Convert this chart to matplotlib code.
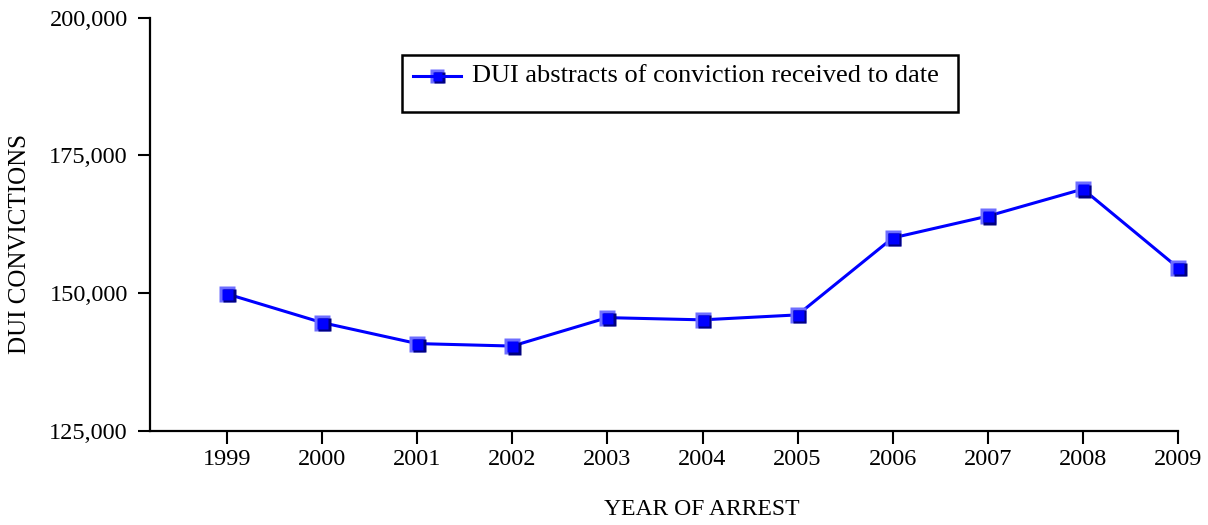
import matplotlib
matplotlib.use("Agg")
import matplotlib.pyplot as plt
import matplotlib.transforms as mtransforms
from matplotlib.patches import Rectangle
from matplotlib.lines import Line2D
from matplotlib.ticker import FuncFormatter

plt.rcParams['font.family'] = ['Liberation Serif', 'DejaVu Serif']

# data
years = [1999, 2000, 2001, 2002, 2003, 2004, 2005, 2006, 2007, 2008, 2009]
convictions = [149900, 144700, 140900, 140450, 145600, 145200, 146100,
               160050, 164000, 168900, 154650]
yticks = [125000, 150000, 175000, 200000]
series_label = "DUI abstracts of conviction received to date"

W, H = 1208, 525
fig = plt.figure(figsize=(W / 100, H / 100), dpi=100)
ax = fig.add_axes([150 / W, (H - 431.3) / H, 1028 / W, 413.8 / H])

BLUE = '#0000ff'
LIGHT = '#6e6eff'
DARK = '#000080'


def bevel_markers(axis, xs, ys, size_px, trans=None, clip=False):
    # square marker with a light top/left edge and a dark bottom/right edge
    if trans is None:
        trans = axis.transData
    px = 0.72  # points per pixel at 100 dpi
    axis.plot(xs, ys, ls='none', marker='s', ms=size_px * px, mfc=LIGHT,
              mec='none', transform=trans, clip_on=clip, zorder=4)
    t_dark = mtransforms.offset_copy(trans, fig=fig, x=1.5, y=-1.5, units='dots')
    axis.plot(xs, ys, ls='none', marker='s', ms=(size_px - 3) * px, mfc=DARK,
              mec='none', transform=t_dark, clip_on=clip, zorder=5)
    axis.plot(xs, ys, ls='none', marker='s', ms=(size_px - 5) * px, mfc=BLUE,
              mec='none', transform=trans, clip_on=clip, zorder=6)


ax.plot(years, convictions, color=BLUE, lw=2.2, zorder=3, clip_on=False)
bevel_markers(ax, years, convictions, 16)

ax.set_xlim(1999 - 77 / 95.1, 2009)
ax.set_ylim(125000, 200000)
ax.set_xticks(years)
ax.set_yticks(yticks)
ax.yaxis.set_major_formatter(FuncFormatter(lambda v, p: f"{int(v):,}"))

for s in ['top', 'right']:
    ax.spines[s].set_visible(False)
for s in ['left', 'bottom']:
    ax.spines[s].set_linewidth(1.6)
    ax.spines[s].set_color('black')

ax.tick_params(axis='y', direction='out', length=9, width=1.5, pad=7,
               labelsize=17.5)
ax.tick_params(axis='x', direction='out', length=9.5, width=1.5, pad=3,
               labelsize=17.5)

ax.set_xlabel("YEAR OF ARREST", fontsize=17, va='top')
ax.xaxis.set_label_coords((702 - 150) / 1028, -(499 - 431.3) / 413.8)
ax.set_ylabel("DUI CONVICTIONS", fontsize=18)
ax.yaxis.set_label_coords((31 - 150) / 1028, (431.3 - 244) / 413.8)

# legend box drawn by hand (the text sits in the upper part of the box)
fig.patches.append(Rectangle((401.7 / W, 1 - 111.7 / H), (958 - 401.7) / W,
                             (111.7 - 55) / H, transform=fig.transFigure,
                             fill=False, ec='black', lw=1.8))
fig.lines.append(Line2D([412.7 / W, 461 / W], [1 - 75.7 / H, 1 - 75.7 / H],
                        transform=fig.transFigure, color=BLUE, lw=2.2))
bevel_markers(ax, [437 / W], [1 - 75.7 / H], 14, trans=fig.transFigure)
fig.text(471.7 / W, 1 - 82 / H, series_label, fontsize=19, va='baseline',
         ha='left')

fig.savefig("out.png", dpi=100)
